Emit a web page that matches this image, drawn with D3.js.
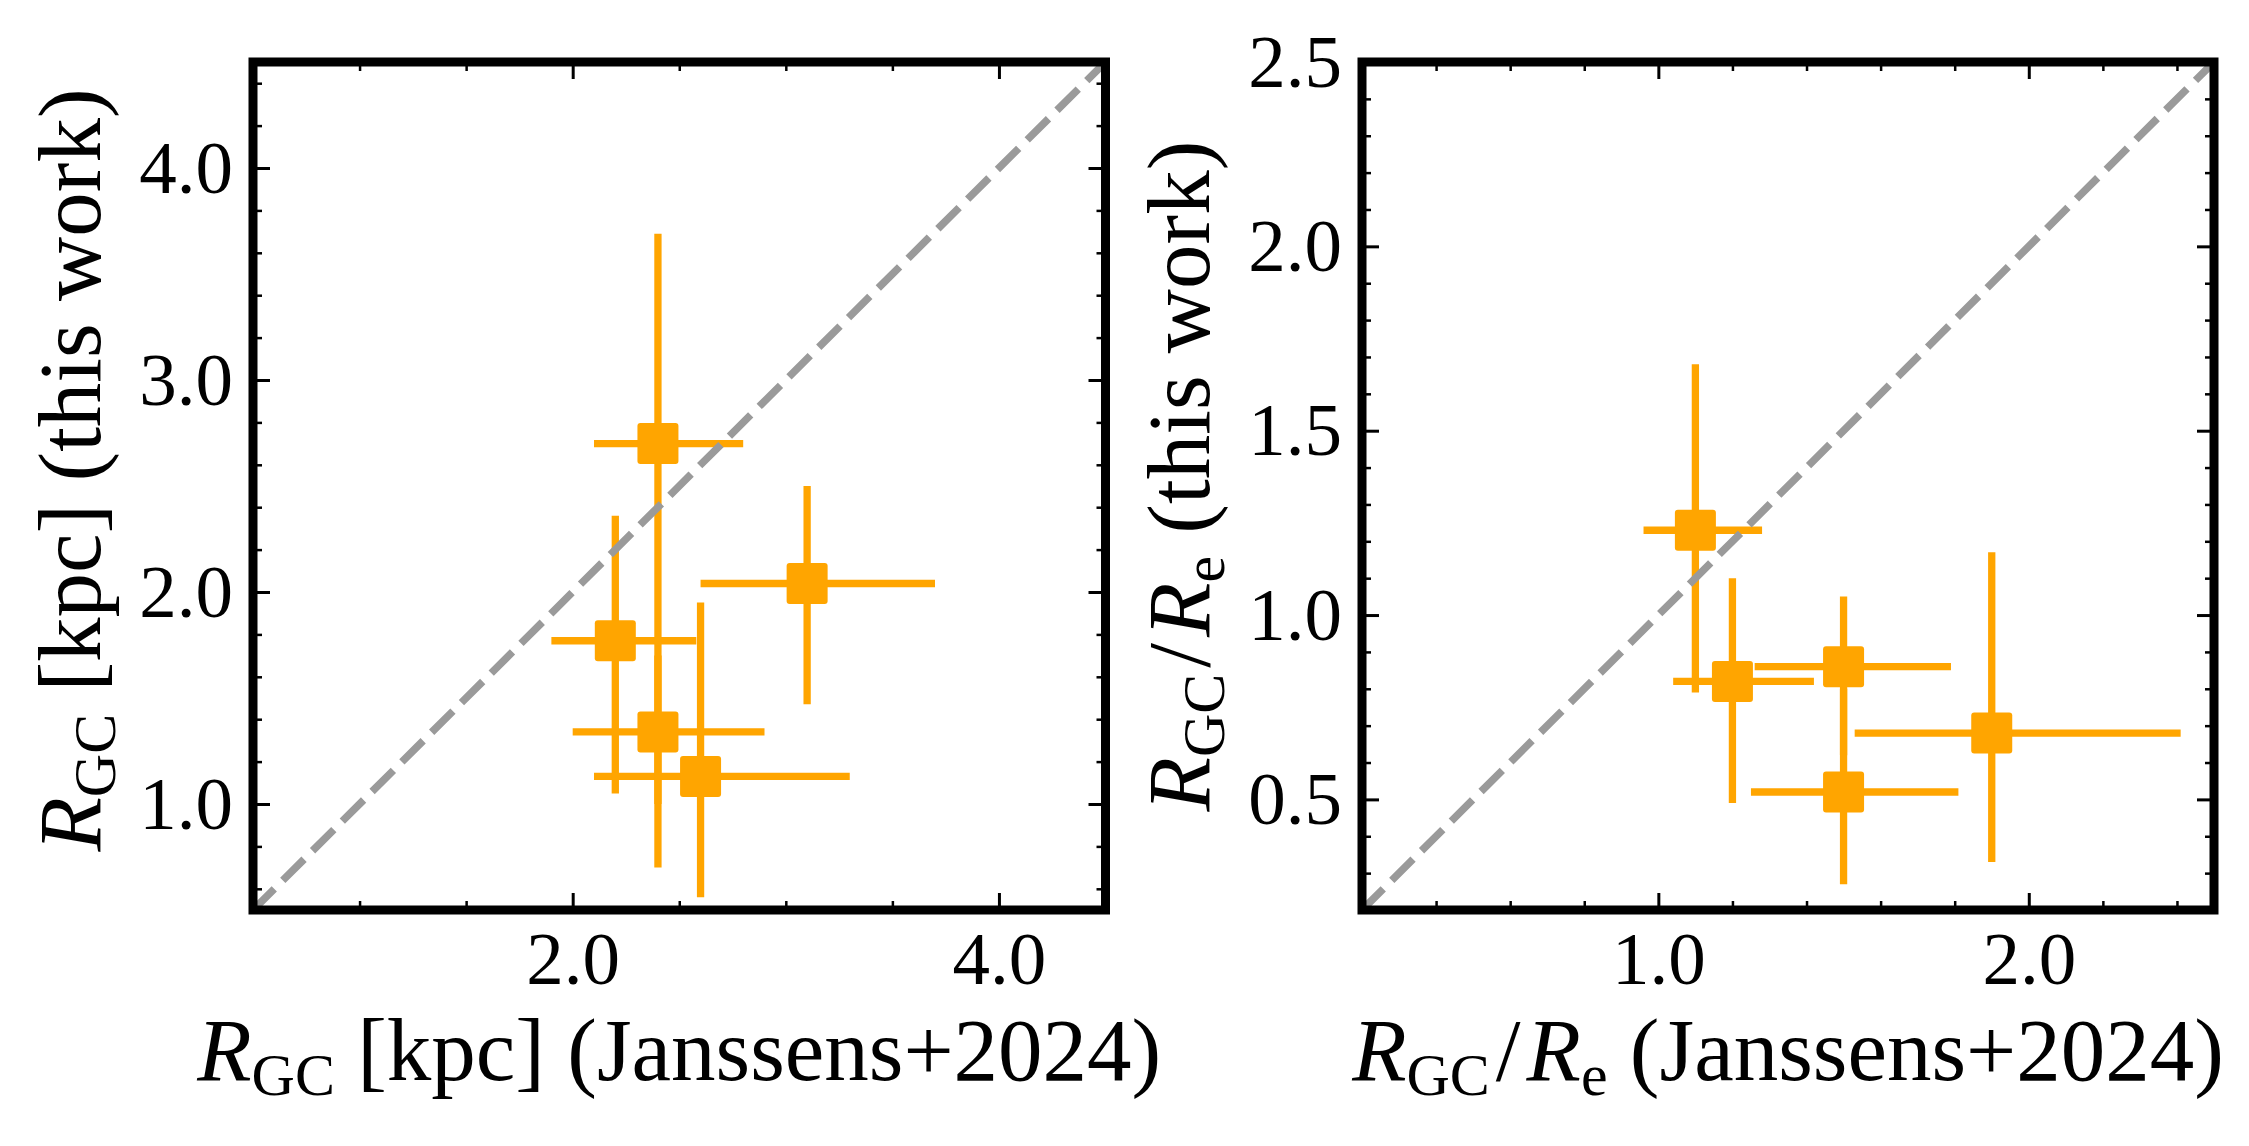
<!DOCTYPE html>
<html>
<head>
<meta charset="utf-8">
<script src="https://cdn.jsdelivr.net/npm/d3@7"></script>
<style>
  body { margin: 0; background: #fff; }
  svg { display: block; }
</style>
</head>
<body>
<div id="chart"></div>
<script>
// left panel: R_GC in kpc
var leftX   = [2.4, 3.1, 2.2, 2.4, 2.6];
var leftXLo = [2.1, 2.6, 1.9, 2.0, 2.1];
var leftXHi = [2.8, 3.7, 2.58, 2.9, 3.3];
var leftY   = [2.7, 2.04, 1.77, 1.34, 1.13];
var leftYLo = [0.7, 1.47, 1.05, 1.0, 0.56];
var leftYHi = [3.69, 2.5, 2.36, 1.7, 1.95];

// right panel: R_GC / R_e
var rightX   = [1.1, 1.2, 1.5, 1.5, 1.9];
var rightXLo = [0.96, 1.04, 1.26, 1.25, 1.53];
var rightXHi = [1.28, 1.42, 1.79, 1.81, 2.41];
var rightY   = [1.23, 0.82, 0.86, 0.52, 0.68];
var rightYLo = [0.79, 0.49, 0.62, 0.27, 0.33];
var rightYHi = [1.68, 1.10, 1.05, 0.80, 1.17];

// ticks
var leftXMajor = [2.0, 4.0];
var leftXMinor = [1.0, 1.5, 2.5, 3.0, 3.5];
var leftYMajor = [1.0, 2.0, 3.0, 4.0];
var leftYMinor = [0.6, 0.8, 1.2, 1.4, 1.6, 1.8, 2.2, 2.4, 2.6, 2.8, 3.2, 3.4, 3.6, 3.8, 4.2, 4.4];
var rightXMajor = [1.0, 2.0];
var rightXMinor = [0.4, 0.6, 0.8, 1.2, 1.4, 1.6, 1.8, 2.2, 2.4];
var rightYMajor = [0.5, 1.0, 1.5, 2.0, 2.5];
var rightYMinor = [0.3, 0.4, 0.6, 0.7, 0.8, 0.9, 1.1, 1.2, 1.3, 1.4, 1.6, 1.7, 1.8, 1.9, 2.1, 2.2, 2.3, 2.4];

var leftDomain = [0.5, 4.5];
var rightDomain = [0.2, 2.5];

var W = 2249, H = 1146;
var FONT = "'Liberation Serif', 'Times New Roman', serif";
var ORANGE = '#ffa500';
var LABEL_SIZE = 89, SUB_SIZE = 60, SUB_SHIFT = 15;

var panels = [
  {
    x0: 253, x1: 1105.5, y0: 62, y1: 910, domain: leftDomain, yShift: -16,
    xs: leftX, xlo: leftXLo, xhi: leftXHi, ys: leftY, ylo: leftYLo, yhi: leftYHi,
    xMajor: leftXMajor, xMinor: leftXMinor, yMajor: leftYMajor, yMinor: leftYMinor,
    xLabel: [{t: 'R', i: true}, {t: 'GC', sub: true}, {t: ' [kpc] (Janssens+2024)'}],
    yLabel: [{t: 'R', i: true}, {t: 'GC', sub: true}, {t: ' [kpc] (this work)'}]
  },
  {
    x0: 1362, x1: 2214, y0: 62, y1: 910, domain: rightDomain, yShift: -10,
    xs: rightX, xlo: rightXLo, xhi: rightXHi, ys: rightY, ylo: rightYLo, yhi: rightYHi,
    xMajor: rightXMajor, xMinor: rightXMinor, yMajor: rightYMajor, yMinor: rightYMinor,
    xLabel: [{t: 'R', i: true}, {t: 'GC', sub: true}, {t: '/', gap: 6}, {t: 'R', i: true, gap: 6}, {t: 'e', sub: true}, {t: ' (Janssens+2024)'}],
    yLabel: [{t: 'R', i: true}, {t: 'GC', sub: true}, {t: '/', gap: 6}, {t: 'R', i: true, gap: 6}, {t: 'e', sub: true}, {t: ' (this work)'}]
  }
];

var svg = d3.select('#chart').append('svg')
    .attr('width', W)
    .attr('height', H);

var fmt = d3.format('.1f');

function writeLabel(text, parts) {
  var inSub = false;
  parts.forEach(function(p) {
    var ts = text.append('tspan').text(p.t);
    if (p.i) ts.attr('font-style', 'italic');
    if (p.gap) ts.attr('dx', p.gap);
    if (p.sub) {
      ts.attr('font-size', SUB_SIZE);
      if (!inSub) ts.attr('dy', SUB_SHIFT);
      inSub = true;
    } else {
      ts.attr('font-size', LABEL_SIZE);
      if (inSub) ts.attr('dy', -SUB_SHIFT);
      inSub = false;
    }
  });
}

function styleAxis(g, width) {
  g.select('.domain').remove();
  g.selectAll('.tick line').attr('stroke', '#000').attr('stroke-width', width);
  g.selectAll('.tick text')
    .attr('font-family', FONT)
    .attr('font-size', 75)
    .attr('fill', '#000');
}

panels.forEach(function(p) {
  var x = d3.scaleLinear().domain(p.domain).range([p.x0, p.x1]);
  var y = d3.scaleLinear().domain(p.domain).range([p.y1, p.y0]);
  var g = svg.append('g');

  // error bars
  var idx = d3.range(p.xs.length);
  var bars = g.append('g');
  bars.selectAll('line.xerr')
    .data(idx)
    .enter()
    .append('line')
    .attr('class', 'xerr')
    .attr('x1', function(i) { return x(p.xlo[i]); })
    .attr('x2', function(i) { return x(p.xhi[i]); })
    .attr('y1', function(i) { return y(p.ys[i]); })
    .attr('y2', function(i) { return y(p.ys[i]); })
    .attr('stroke', ORANGE)
    .attr('stroke-width', 7.3);
  bars.selectAll('line.yerr')
    .data(idx)
    .enter()
    .append('line')
    .attr('class', 'yerr')
    .attr('x1', function(i) { return x(p.xs[i]); })
    .attr('x2', function(i) { return x(p.xs[i]); })
    .attr('y1', function(i) { return y(p.ylo[i]); })
    .attr('y2', function(i) { return y(p.yhi[i]); })
    .attr('stroke', ORANGE)
    .attr('stroke-width', 7.3);

  // square markers
  var s = 41;
  g.append('g').selectAll('rect')
    .data(idx)
    .enter()
    .append('rect')
    .attr('x', function(i) { return x(p.xs[i]) - s / 2; })
    .attr('y', function(i) { return y(p.ys[i]) - s / 2; })
    .attr('width', s)
    .attr('height', s)
    .attr('rx', 3)
    .attr('fill', ORANGE);

  // one-to-one line
  g.append('path')
    .datum(p.domain)
    .attr('d', d3.line().x(function(d) { return x(d); }).y(function(d) { return y(d); }))
    .attr('fill', 'none')
    .attr('stroke', '#9a9a9a')
    .attr('stroke-width', 7.5)
    .attr('stroke-dasharray', '30,12');

  // ticks on all four sides, pointing inward
  var bottom = 'translate(0,' + p.y1 + ')';
  var top = 'translate(0,' + p.y0 + ')';
  var left = 'translate(' + p.x0 + ',0)';
  var right = 'translate(' + p.x1 + ',0)';

  g.append('g').attr('transform', bottom)
    .call(d3.axisBottom(x).tickValues(p.xMajor).tickSize(-17).tickPadding(21).tickFormat(fmt))
    .call(styleAxis, 3);
  g.append('g').attr('transform', bottom)
    .call(d3.axisBottom(x).tickValues(p.xMinor).tickSize(-9).tickFormat(''))
    .call(styleAxis, 2.5);
  g.append('g').attr('transform', top)
    .call(d3.axisTop(x).tickValues(p.xMajor).tickSize(-17).tickFormat(''))
    .call(styleAxis, 3);
  g.append('g').attr('transform', top)
    .call(d3.axisTop(x).tickValues(p.xMinor).tickSize(-9).tickFormat(''))
    .call(styleAxis, 2.5);
  g.append('g').attr('transform', left)
    .call(d3.axisLeft(y).tickValues(p.yMajor).tickSize(-17).tickPadding(20).tickFormat(fmt))
    .call(styleAxis, 3);
  g.append('g').attr('transform', left)
    .call(d3.axisLeft(y).tickValues(p.yMinor).tickSize(-9).tickFormat(''))
    .call(styleAxis, 2.5);
  g.append('g').attr('transform', right)
    .call(d3.axisRight(y).tickValues(p.yMajor).tickSize(-17).tickFormat(''))
    .call(styleAxis, 3);
  g.append('g').attr('transform', right)
    .call(d3.axisRight(y).tickValues(p.yMinor).tickSize(-9).tickFormat(''))
    .call(styleAxis, 2.5);

  // frame
  g.append('rect')
    .attr('x', p.x0)
    .attr('y', p.y0)
    .attr('width', p.x1 - p.x0)
    .attr('height', p.y1 - p.y0)
    .attr('fill', 'none')
    .attr('stroke', '#000')
    .attr('stroke-width', 9);

  // axis labels
  var xl = g.append('text')
    .attr('x', (p.x0 + p.x1) / 2)
    .attr('y', 1080)
    .attr('text-anchor', 'middle')
    .attr('font-family', FONT)
    .attr('font-size', LABEL_SIZE)
    .attr('fill', '#000');
  writeLabel(xl, p.xLabel);

  var yl = g.append('text')
    .attr('transform', 'translate(' + (p.x0 - 153) + ',' + ((p.y0 + p.y1) / 2 + p.yShift) + ') rotate(-90)')
    .attr('text-anchor', 'middle')
    .attr('font-family', FONT)
    .attr('font-size', LABEL_SIZE)
    .attr('fill', '#000');
  writeLabel(yl, p.yLabel);
});
</script>
</body>
</html>
